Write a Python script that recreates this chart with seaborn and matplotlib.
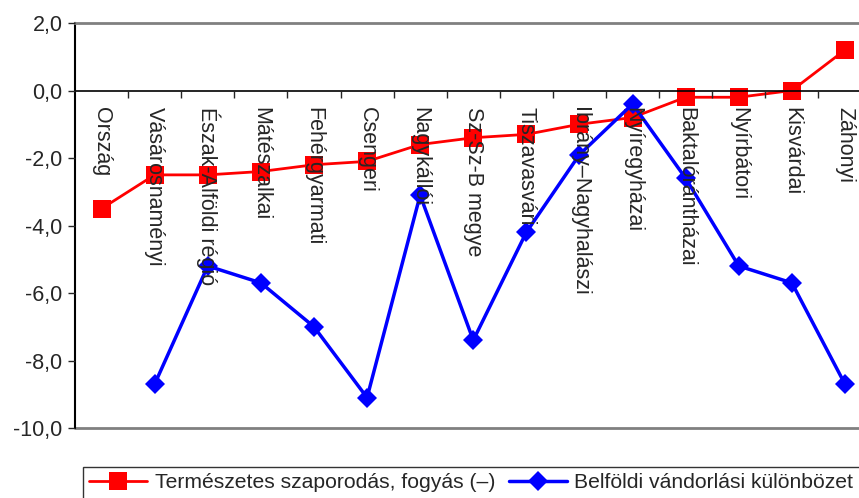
import numpy as np
import pandas as pd
import seaborn as sns
import matplotlib.pyplot as plt
from matplotlib.ticker import FuncFormatter, FixedLocator

categories = ["Ország", "Vásárosnaményi", "Észak-Alföldi régió", "Mátészalkai",
              "Fehérgyarmati", "Csengeri", "Nagykállói", "Sz-Sz-B megye",
              "Tiszavasvári", "Ibrány\u2013Nagyhalászi", "Nyíregyházai",
              "Baktalórántházai", "Nyírbátori", "Kisvárdai", "Záhonyi"]
termeszetes = [-3.5, -2.5, -2.5, -2.4, -2.2, -2.1, -1.6, -1.4, -1.3, -1.0,
               -0.8, -0.2, -0.2, 0.0, 1.2]
belfoldi = [np.nan, -8.7, -5.2, -5.7, -7.0, -9.1, -3.1, -7.4, -4.2, -1.9,
            -0.4, -2.6, -5.2, -5.7, -8.7]
label_red = "Természetes szaporodás, fogyás (\u2013)"
label_blue = "Belföldi vándorlási különbözet"

df = pd.DataFrame({"pos": np.arange(len(categories)),
                   "red": termeszetes, "blue": belfoldi})

sns.set_style("white")
plt.rcParams['font.family'] = ['Liberation Sans', 'DejaVu Sans']
plt.rcParams['font.size'] = 15.5

fig = plt.figure(figsize=(8.59, 4.98), dpi=100)
ax = fig.add_axes([75 / 859, 1 - 428 / 498, (871.5 - 75) / 859, (428 - 23) / 498])

sns.lineplot(data=df, x="pos", y="red", ax=ax, color="#FF0000", lw=2,
             marker="s", markersize=12.5, markeredgewidth=0, label=label_red)
sns.lineplot(data=df.dropna(), x="pos", y="blue", ax=ax, color="#0000FF", lw=2.5,
             marker="D", markersize=10, markeredgewidth=0, label=label_blue)

ax.set_xlim(-0.5, len(categories) - 0.5)
ax.set_ylim(-10, 2)
ax.set_xlabel("")
ax.set_ylabel("")
ax.set_axisbelow(False)  # category labels sit on top of the lines

# y axis
ax.set_yticks(np.arange(-10, 2.1, 2))
ax.yaxis.set_major_formatter(FuncFormatter(lambda v, p: f"{v:.1f}".replace(".", ",")))
ax.tick_params(axis="y", direction="out", length=5, width=1, pad=4, left=True)

# x axis crossing at zero, category labels rotated below it
ax.spines["bottom"].set_position(("data", 0))
ax.spines["bottom"].set_color("black")
ax.spines["bottom"].set_linewidth(1.2)
ax.set_xticks(df["pos"])
ax.set_xticklabels(categories, rotation=-90, va="top", ha="center")
ax.xaxis.set_minor_locator(FixedLocator(np.arange(0.5, len(categories) - 0.5, 1)))
ax.tick_params(axis="x", which="major", length=0, pad=12)
ax.tick_params(axis="x", which="minor", direction="out", length=5, width=1, bottom=True)

ax.spines["left"].set_color("black")
ax.spines["left"].set_linewidth(1.5)
ax.spines["top"].set_color("#808080")
ax.spines["top"].set_linewidth(2)
ax.spines["right"].set_visible(False)
ax.axhline(-10, color="#808080", lw=2, clip_on=False)

leg = ax.legend(loc="upper left", bbox_to_anchor=(83 / 859, 1 - 467 / 498),
                bbox_transform=fig.transFigure, ncol=2, frameon=True,
                fancybox=False, edgecolor="black", fontsize=15.2,
                handlelength=2.75, handletextpad=0.35, columnspacing=0.65,
                borderaxespad=0, borderpad=0.3)
leg.get_frame().set_linewidth(1)

fig.savefig("out.png", dpi=100)
